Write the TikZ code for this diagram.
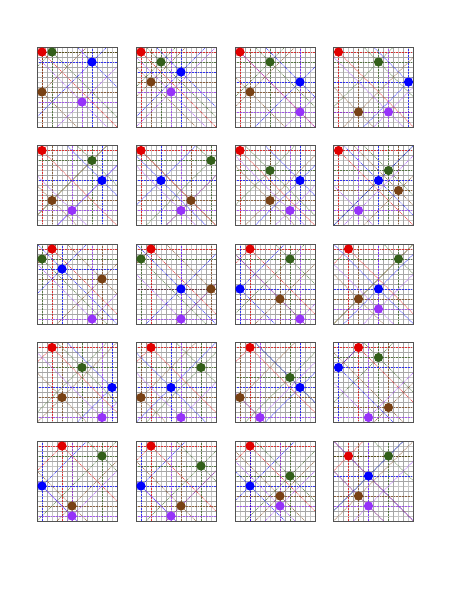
\documentclass[tikz,border=0pt]{standalone}
\usetikzlibrary{calc}
\definecolor{qc1}{RGB}{225,0,0}
\definecolor{qc2}{RGB}{50,95,25}
\definecolor{qc3}{RGB}{0,0,255}
\definecolor{qc4}{RGB}{120,65,20}
\definecolor{qc5}{RGB}{150,50,250}
\tikzset{
  qdot/.style={densely dotted, line width=0.55pt, draw opacity=0.75},
  qdiag/.style={dash pattern=on 1pt off 0.8pt, line width=0.6pt, draw opacity=0.75},
  gridmajor/.style={draw=gray!70, line width=0.55pt},
  gridminor/.style={draw=gray!45, line width=0.45pt},
  frame/.style={draw=gray!65!black, line width=0.9pt},
}
\newcommand{\qboard}[3]{%
\begin{scope}[shift={(#1,#2)}]
  \begin{scope}
    \clip (0,0) rectangle (80,80);
    \foreach \k in {0,...,7} {
      \draw[gridminor] ({\k*10+5},0) -- ({\k*10+5},80);
      \draw[gridminor] (0,{\k*10+5}) -- (80,{\k*10+5});
    }
    \foreach \k in {1,...,7} {
      \draw[gridmajor] ({\k*10},0) -- ({\k*10},80);
      \draw[gridmajor] (0,{\k*10}) -- (80,{\k*10});
    }
    \foreach \c/\r [count=\i] in {#3} {
      \draw[qdot, draw=qc\i] (0,{\r*10+5}) -- (80,{\r*10+5});
      \draw[qdot, draw=qc\i] ({\c*10+5},0) -- ({\c*10+5},80);
      \draw[qdiag, draw=qc\i] ({\c*10+5-90},{\r*10+5-90}) -- ({\c*10+5+90},{\r*10+5+90});
      \draw[qdiag, draw=qc\i] ({\c*10+5-90},{\r*10+5+90}) -- ({\c*10+5+90},{\r*10+5-90});
    }
  \end{scope}
  \draw[frame] (0,0) rectangle (80,80);
  \foreach \c/\r [count=\i] in {#3} {
    \fill[fill=qc\i] ({\c*10+5},{\r*10+5}) circle (4.6);
  }
\end{scope}}
\begin{document}
\begin{tikzpicture}[x=1pt,y=-1pt]
\useasboundingbox (0,0) rectangle (464,600);
% row 1
\qboard{37}{47}{0/0,1/0,5/1,0/4,4/5}
\qboard{136}{47}{0/0,2/1,4/2,1/3,3/4}
\qboard{235}{47}{0/0,3/1,6/3,1/4,6/6}
\qboard{333.5}{47}{0/0,4/1,7/3,2/6,5/6}
% row 2
\qboard{37}{145.5}{0/0,5/1,6/3,1/5,3/6}
\qboard{136}{145.5}{0/0,7/1,2/3,5/5,4/6}
\qboard{235}{145.5}{0/0,3/2,6/3,3/5,5/6}
\qboard{333.5}{145.5}{0/0,5/2,4/3,6/4,2/6}
% row 3
\qboard{37}{244}{1/0,0/1,2/2,6/3,5/7}
\qboard{136}{244}{1/0,0/1,4/4,7/4,4/7}
\qboard{235}{244}{1/0,5/1,0/4,4/5,6/7}
\qboard{333.5}{244}{1/0,6/1,4/4,2/5,4/6}
% row 4
\qboard{37}{342.5}{1/0,4/2,7/4,2/5,6/7}
\qboard{136}{342.5}{1/0,6/2,3/4,0/5,4/7}
\qboard{235}{342.5}{1/0,5/3,6/4,0/5,2/7}
\qboard{333.5}{342.5}{2/0,4/1,0/2,5/6,3/7}
% row 5
\qboard{37}{441}{2/0,6/1,0/4,3/6,3/7}
\qboard{136}{441}{1/0,6/2,0/4,4/6,3/7}
\qboard{235}{441}{1/0,5/3,1/4,4/5,4/6}
\qboard{333.5}{441}{1/1,5/1,3/3,2/5,3/6}
\end{tikzpicture}
\end{document}
